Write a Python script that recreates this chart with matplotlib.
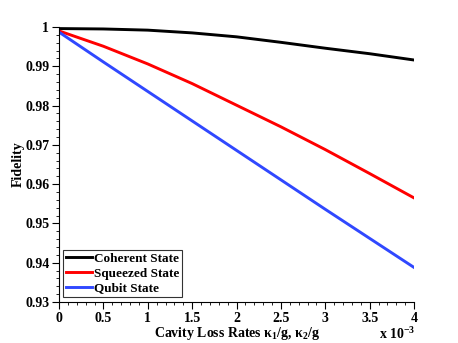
import matplotlib
matplotlib.use("Agg")
import matplotlib.pyplot as plt
import numpy as np

plt.rcParams['font.family'] = ['Liberation Serif', 'DejaVu Serif']
plt.rcParams['font.weight'] = 'bold'
plt.rcParams['mathtext.fontset'] = 'custom'
plt.rcParams['mathtext.rm'] = 'Liberation Serif:bold'
plt.rcParams['mathtext.it'] = 'Liberation Serif:bold'
plt.rcParams['mathtext.bf'] = 'Liberation Serif:bold'

# loss rate in units of 1e-3
kappa = [0, 0.5, 1.0, 1.5, 2.0, 2.5, 3.0, 3.5, 4.0]
coherent = [0.9996, 0.9995, 0.9992, 0.9985, 0.9975, 0.9961, 0.9946, 0.9932, 0.9916]
squeezed = [0.9990, 0.9951, 0.9906, 0.9856, 0.9801, 0.9746, 0.9688, 0.9627, 0.9565]
qubit = [0.9987, 0.9911, 0.9836, 0.9761, 0.9686, 0.9611, 0.9536, 0.9462, 0.9388]

fs = 10

fig = plt.figure(figsize=(4.58, 3.43), dpi=100)
ax = fig.add_axes([59/458, 1-302/343, 355/458, 275/343])

ax.plot(kappa, coherent, color='black', lw=2.1, label='Coherent State')
ax.plot(kappa, squeezed, color='#ff0000', lw=2.1, label='Squeezed State')
ax.plot(kappa, qubit, color='#3048ff', lw=2.1, label='Qubit State')

ax.set_xlim(0, 4)
ax.set_ylim(0.93, 1.0)
ax.set_xticks(np.arange(0, 4.01, 0.5))
ax.set_xticklabels(['0', '0.5', '1', '1.5', '2', '2.5', '3', '3.5', '4'])
ax.set_xticks(np.arange(0, 4.01, 0.1), minor=True)
ax.set_yticks(np.arange(0.93, 1.001, 0.01))
ax.set_yticklabels(['0.93', '0.94', '0.95', '0.96', '0.97', '0.98', '0.99', '1'])
ax.set_yticks(np.arange(0.93, 1.001, 0.002), minor=True)

ax.spines['top'].set_visible(False)
ax.spines['right'].set_visible(False)
ax.tick_params(which='major', direction='out', length=5, width=0.8, labelsize=fs, pad=2)
ax.tick_params(which='minor', direction='out', length=2.5, width=0.6)
for t in ax.get_xticklabels() + ax.get_yticklabels():
    t.set_fontweight('bold')

ax.set_ylabel('Fidelity', fontsize=fs, fontweight='bold')
ax.yaxis.set_label_coords(-(59 - 25) / 355, 0.5)
fig.text(237/458, 1-333/343, r'Cavity Loss Rates $\kappa_1$/g, $\kappa_2$/g',
         ha='center', va='center', fontsize=fs, fontweight='bold')
fig.text(415/458, 1/343, r'x 10$^{-3}$', ha='right', va='bottom',
         fontsize=fs, fontweight='bold')

leg = ax.legend(loc='lower left', bbox_to_anchor=(0.012, 0.018), fontsize=9.5,
                frameon=True, fancybox=False, borderpad=0.2, labelspacing=0.2,
                handlelength=2.0, handletextpad=0.15, borderaxespad=0)
leg.get_frame().set_edgecolor('black')
leg.get_frame().set_linewidth(0.8)
for t in leg.get_texts():
    t.set_fontweight('bold')

fig.savefig('out.png', dpi=100)
